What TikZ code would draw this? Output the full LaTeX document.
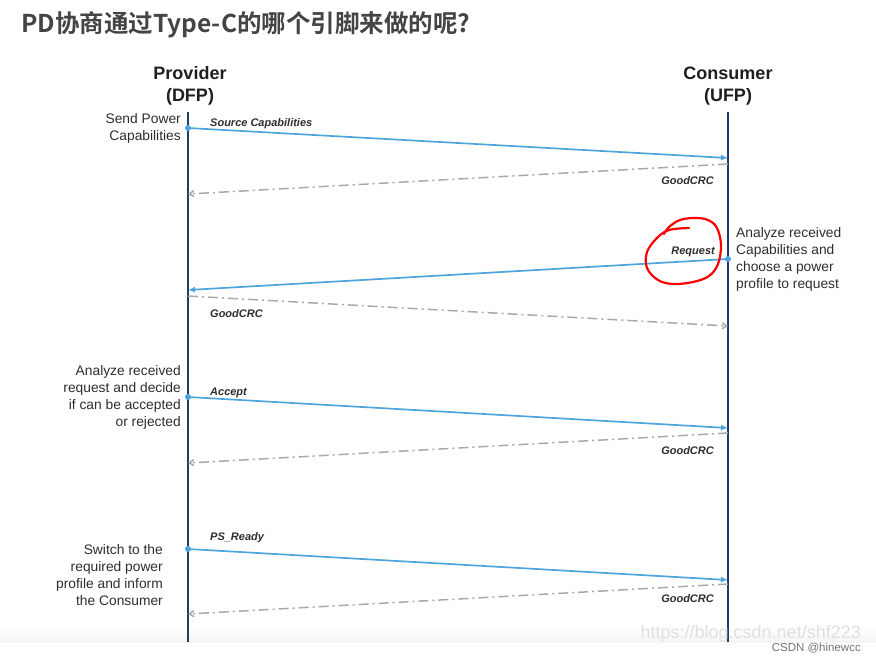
\documentclass[tikz,border=0pt]{standalone}
\usepackage{fontspec}
\setmainfont{Liberation Sans}
\newfontfamily\cjk{Noto Sans CJK SC}[BoldFont={* Bold}]
\usetikzlibrary{arrows.meta,positioning}
\definecolor{titlegray}{HTML}{444444}
\definecolor{lifenavy}{HTML}{25396A}
\definecolor{msgblue}{HTML}{4EA5DB}
\definecolor{ackgray}{HTML}{A9A9A9}
\definecolor{txtgray}{HTML}{2E2E2E}

\begin{document}
\begin{tikzpicture}[x=1pt,y=-1pt,>=Latex,font=\fontsize{13.8}{17}\selectfont]

\tikzset{
role/.style={font=\fontsize{18}{22}\selectfont\bfseries,text=black!88,align=center,inner sep=0pt},
life/.style={draw=lifenavy,line width=2.8pt},
msg/.style={draw=msgblue,line width=1.7pt,-{Latex[length=7pt,width=6pt]}},
ack/.style={draw=ackgray,line width=1.5pt,dash pattern=on 10pt off 4pt on 2pt off 4pt,-{Straight Barb[length=4.5pt,width=6pt]}},
lbl/.style={font=\fontsize{11}{12}\selectfont\bfseries\itshape,text=black!82,inner sep=0pt},
side/.style={text=txtgray,inner sep=0pt},
src/.style={circle,fill=msgblue,inner sep=0pt,minimum size=6pt}
}

\useasboundingbox (0,0) rectangle (876,662);
\fill[white] (0,0) rectangle (876,662);
\shade[top color=white,bottom color=black!4] (0,626) rectangle (876,642);

% title
\node[anchor=west,inner sep=0pt,text=titlegray,font=\cjk\bfseries\fontsize{24.5}{28}\selectfont] (title) at (21,25) {PD协商通过Type-C的哪个引脚来做的呢?};

% the two partners
\node[role] (prov) at (190,86) {Provider\\(DFP)};
\node[role] (cons) at (728,86) {Consumer\\(UFP)};

\coordinate (pTop) at (188,112);
\coordinate (pBot) at (188,642);
\coordinate (cTop) at (728,112);
\coordinate (cBot) at (728,642);
\draw[life] (pTop) -- (pBot);
\draw[life] (cTop) -- (cBot);

% points on the lifelines
\coordinate (p1) at (188,128);  \coordinate (c1) at (728,158);
\coordinate (c2) at (728,164);  \coordinate (p2) at (188,194);
\coordinate (c3) at (728,259);  \coordinate (p3) at (188,290);
\coordinate (p4) at (188,296);  \coordinate (c4) at (728,326);
\coordinate (p5) at (188,397);  \coordinate (c5) at (728,428);
\coordinate (c6) at (728,433);  \coordinate (p6) at (188,463);
\coordinate (p7) at (188,549);  \coordinate (c7) at (728,580);
\coordinate (c8) at (728,584);  \coordinate (p8) at (188,614);

% messages
\draw[msg] (p1) -- (c1);
\draw[ack] (c2) -- (p2);
\draw[msg] (c3) -- (p3);
\draw[ack] (p4) -- (c4);
\draw[msg] (p5) -- (c5);
\draw[ack] (c6) -- (p6);
\draw[msg] (p7) -- (c7);
\draw[ack] (c8) -- (p8);

\node[src] (d1) at (p1) {};
\node[src] (d3) at (c3) {};
\node[src] (d5) at (p5) {};
\node[src] (d7) at (p7) {};

\node[lbl,anchor=west] (l1) at (210,124) {Source Capabilities};
\node[lbl,anchor=east] (l2) at (714,181) {GoodCRC};
\node[lbl,anchor=east] (l3) at (715,252) {Request};
\node[lbl,anchor=west] (l4) at (210,314) {GoodCRC};
\node[lbl,anchor=west] (l5) at (210,393) {Accept};
\node[lbl,anchor=east] (l6) at (714,451) {GoodCRC};
\node[lbl,anchor=west] (l7) at (210,538) {PS\_Ready};
\node[lbl,anchor=east] (l8) at (714,599) {GoodCRC};

% what each side does
\node[side,align=right,anchor=north east] (s1) at (181,113) {Send Power\\Capabilities};
\node[side,align=left,anchor=north west] (s2) at (736,227) {Analyze received\\Capabilities and\\choose a power\\profile to request};
\node[side,align=right,anchor=north east] (s3) at (181,365) {Analyze received\\request and decide\\if can be accepted\\or rejected};
\node[side,align=right,anchor=north east] (s4) at (163,544) {Switch to the\\required power\\profile and inform\\the Consumer};

% hand drawn mark round Request
\draw[red,line width=2.2pt,line cap=round,line join=round] plot[smooth,tension=0.6] coordinates {
(689,228) (669,230) (657,238) (647,252) (647,268) (658,280) (673,284) (693,282)
(709,276) (718,264) (721,245) (717,228) (708,220) (695,218) (680,220) (669,227) (664,234)};

% watermark
\node[anchor=east,inner sep=0pt,text=black!12,font=\fontsize{18}{20}\selectfont] (wm) at (861,634) {https://blog.csdn.net/shf223};
\node[anchor=east,inner sep=0pt,text=black!55,font=\fontsize{11.5}{13}\selectfont] (wm2) at (861,648) {CSDN @hinewcc};

\end{tikzpicture}
\end{document}
